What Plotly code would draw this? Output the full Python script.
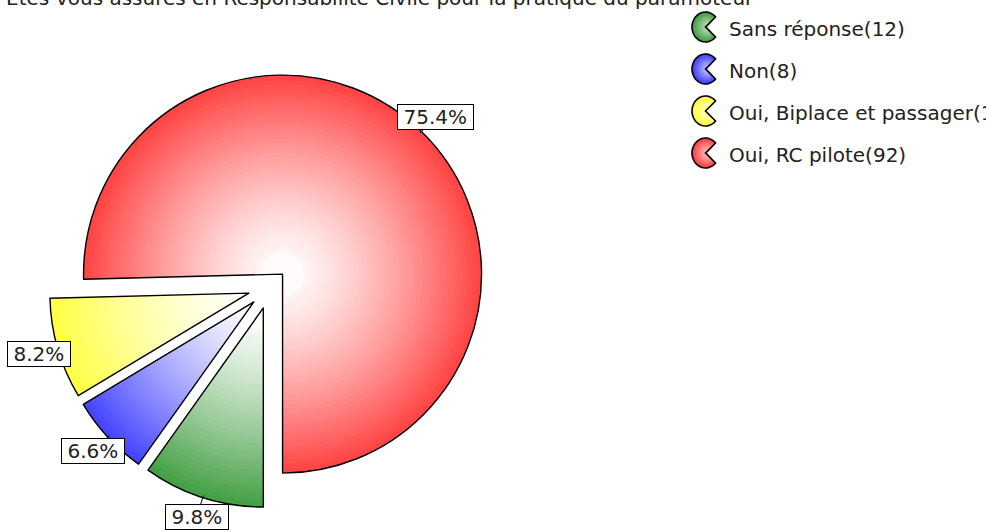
import numpy as np
import plotly.graph_objects as go

# ---------------- data ----------------
title_text = "Etes-vous assurés en Responsabilité Civile pour la pratique du paramoteur"
labels = ["Sans réponse", "Non", "Oui, Biplace et passager", "Oui, RC pilote"]
counts = [12, 8, 10, 92]
edge_colors = [(66, 158, 66), (66, 66, 255), (255, 255, 66), (255, 66, 66)]

# ---------------- geometry / style ----------------
W, H = 986, 532
CX, CY = 270, 287          # pie centre (px)
R = 199                    # pie radius (px)
PULL_PX = [22, 22, 22, 18] # explode offsets (px)
PMAX = max(PULL_PX)
FONT = "DejaVu Sans"
total = sum(counts)


def mix(base, t):
    t = min(max(t, 0.0), 1.0)
    return "rgb(%d,%d,%d)" % tuple(int(round(255 + (c - 255) * t)) for c in base)


def to_paper(x, y):
    return x / W, 1 - y / H


fig = go.Figure()

# radial gradient: stacked pies from largest to smallest
n_layers = 40
radii = np.linspace(R, PMAX, n_layers)
for k, rk in enumerate(radii):
    r_in = radii[k + 1] if k + 1 < n_layers else 0
    t = (((rk + r_in) / 2) / R) ** 1.3
    cols = [mix(b, t) for b in edge_colors]
    D = 2 * rk + 2 * PMAX
    x0, y1 = to_paper(CX - D / 2, CY - D / 2)
    x1, y0 = to_paper(CX + D / 2, CY + D / 2)
    fig.add_trace(go.Pie(
        labels=labels, values=counts, sort=False, direction="clockwise", rotation=180,
        pull=[p / rk for p in PULL_PX], domain=dict(x=[x0, x1], y=[y0, y1]),
        marker=dict(colors=cols, line=dict(width=0)),
        textinfo="none", hoverinfo="skip", showlegend=False))

# outline trace
D = 2 * R + 2 * PMAX
x0, y1 = to_paper(CX - D / 2, CY - D / 2)
x1, y0 = to_paper(CX + D / 2, CY + D / 2)
fig.add_trace(go.Pie(
    labels=labels, values=counts, sort=False, direction="clockwise", rotation=180,
    pull=[p / R for p in PULL_PX], domain=dict(x=[x0, x1], y=[y0, y1]),
    marker=dict(colors=["rgba(0,0,0,0)"] * len(counts), line=dict(color="black", width=1.4)),
    textinfo="none", hoverinfo="skip", showlegend=False))

# char widths (em) for DejaVu Sans digits etc.
CW = {".": 0.318, "%": 0.950}


def text_w(s, size=20):
    return sum(CW.get(ch, 0.636) for ch in s) * size


annotations = []
shapes = []

# percentage labels with leader lines
cum = 0
for i, v in enumerate(counts):
    mid = np.deg2rad(180 + (cum + v / 2) / total * 360)
    cum += v
    dx, dy = np.sin(mid), -np.cos(mid)
    ax, ay = CX + PULL_PX[i] * dx, CY + PULL_PX[i] * dy
    lx0, ly0 = to_paper(ax + (R - 2) * dx, ay + (R - 2) * dy)
    lx1, ly1 = to_paper(ax + (R + 12) * dx, ay + (R + 12) * dy)
    shapes.append(dict(type="line", xref="paper", yref="paper", x0=lx0, y0=ly0, x1=lx1, y1=ly1,
                       line=dict(color="black", width=1)))
    px, py = to_paper(ax + (R + 20) * dx, ay + (R + 20) * dy)
    txt = f"{v / total * 100:.1f}%"
    annotations.append(dict(
        x=px, y=py, xref="paper", yref="paper", text=txt, showarrow=False,
        xanchor="center", yanchor="middle", font=dict(family=FONT, size=20, color="#222"),
        bgcolor="white", bordercolor="black", borderwidth=1, borderpad=1,
        width=text_w(txt) + 9, height=22))

# custom legend (pac-man icons + text)
LEG_X, LEG_Y0, LEG_DY = 705.5, 27, 42
RX, RY, MOUTH = 13.5, 15, 42


def pac_path(cx, cy, s):
    ang = np.deg2rad(np.linspace(MOUTH, 360 - MOUTH, 40))
    pts = [(cx, cy)] + [(cx + s * RX * np.cos(a), cy - s * RY * np.sin(a)) for a in ang]
    p = [to_paper(x, y) for x, y in pts]
    return "M " + " L ".join(f"{x:.5f},{y:.5f}" for x, y in p) + " Z"


for i, lab in enumerate(labels):
    cy = LEG_Y0 + i * LEG_DY
    cx = LEG_X
    for s in np.linspace(1, 0.25, 7):
        shapes.append(dict(type="path", xref="paper", yref="paper", path=pac_path(cx + (1 - s) * 3, cy, s),
                           fillcolor=mix(edge_colors[i], 0.2 + 0.8 * s), line=dict(width=0)))
    shapes.append(dict(type="path", xref="paper", yref="paper", path=pac_path(cx, cy, 1),
                       fillcolor="rgba(0,0,0,0)", line=dict(color="black", width=1.6)))
    tx, ty = to_paper(728, cy + 2)
    annotations.append(dict(
        x=tx, y=ty, xref="paper", yref="paper", text=f"{lab}({counts[i]})", showarrow=False,
        xanchor="left", yanchor="middle", font=dict(family=FONT, size=20, color="#222"),
        borderpad=0))

# title (partially cut at the top, as in the reference)
annotations.append(dict(
    x=5 / W, y=1, xref="paper", yref="paper", text=title_text, showarrow=False,
    xanchor="left", yanchor="middle", yshift=2, font=dict(family=FONT, size=20, color="#222"),
    borderpad=0))

fig.update_layout(
    width=W, height=H, margin=dict(l=0, r=0, t=0, b=0),
    paper_bgcolor="white", plot_bgcolor="white", showlegend=False,
    annotations=annotations, shapes=shapes)

fig.write_html("out.html", config={"displayModeBar": False},
               post_script="document.body.style.margin='0px';")
